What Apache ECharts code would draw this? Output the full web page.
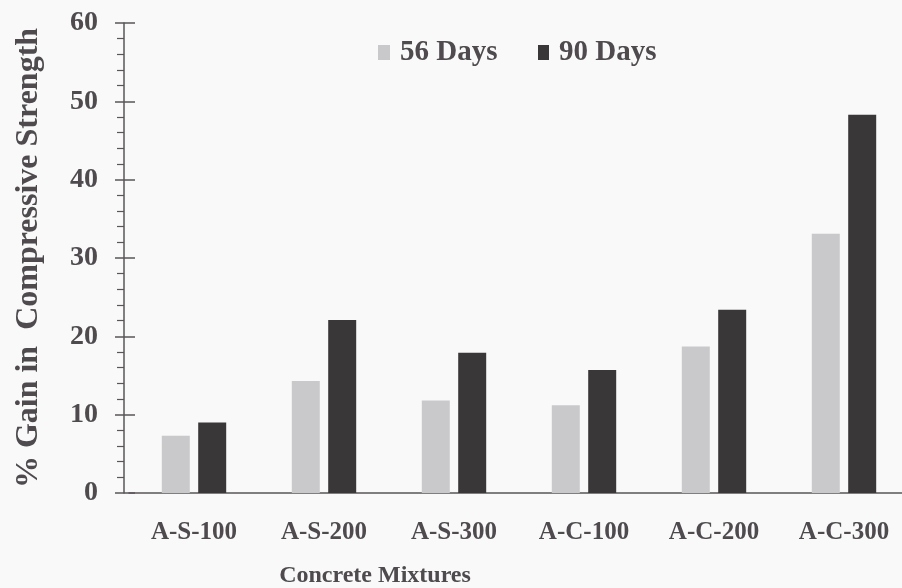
<!DOCTYPE html>
<html>
<head>
<meta charset="utf-8">
<title>% Gain in Compressive Strength</title>
<script src="https://cdn.jsdelivr.net/npm/echarts@6/dist/echarts.min.js"></script>
<style>
  html, body { margin: 0; padding: 0; background: #f9f9f9; }
  #chart { width: 902px; height: 588px; }
</style>
</head>
<body>
<div id="chart"></div>
<script>
// Concrete mixtures on the category axis
const mixtures = ['A-S-100', 'A-S-200', 'A-S-300', 'A-C-100', 'A-C-200', 'A-C-300'];
// % gain in compressive strength at each age
const gain56Days = [7.3, 14.3, 11.8, 11.2, 18.7, 33.1];
const gain90Days = [9.0, 22.1, 17.9, 15.7, 23.4, 48.3];
// Value axis ticks
const yTicks = [0, 10, 20, 30, 40, 50, 60];

const FONT = '"Liberation Serif", "Times New Roman", serif';
const TEXT = '#4e4a4e';
const LINE = '#5a5658';
const LIGHT = '#c9c8cb';
const DARK = '#3a3738';

const chart = echarts.init(document.getElementById('chart'), null, { renderer: 'canvas' });

const legendText = { fontFamily: FONT, fontWeight: 'bold', fontSize: 29, color: TEXT, padding: [0, 0, 0, 5] };

chart.setOption({
  backgroundColor: '#f9f9f9',
  animation: false,
  legend: [
    {
      data: ['56 Days'], left: 373, top: 33, icon: 'rect',
      itemWidth: 12, itemHeight: 15, textStyle: legendText
    },
    {
      data: ['90 Days'], left: 533, top: 33, icon: 'rect',
      itemWidth: 11, itemHeight: 15, textStyle: legendText
    }
  ],
  grid: {
    left: 129, right: -7, top: 23, bottom: 95,
    containLabel: false, outerBoundsMode: 'none'
  },
  xAxis: {
    type: 'category',
    data: mixtures,
    axisLine: { lineStyle: { color: LINE, width: 1.5 } },
    axisTick: { show: false },
    axisLabel: {
      margin: 27, fontFamily: FONT, fontWeight: 'bold', fontSize: 25, color: TEXT
    }
  },
  yAxis: [
    {
      type: 'value',
      position: 'left',
      min: yTicks[0], max: yTicks[yTicks.length - 1], interval: 10,
      offset: 5,
      name: '% Gain in  Compressive Strength',
      nameLocation: 'middle',
      nameRotate: 90,
      nameGap: 79,
      nameTextStyle: { fontFamily: FONT, fontWeight: 'bold', fontSize: 32, color: TEXT },
      axisLine: { show: true, lineStyle: { color: LINE, width: 1.5 } },
      axisTick: { show: true, length: 9, lineStyle: { color: LINE, width: 1.5 } },
      minorTick: { show: true, splitNumber: 5, length: 7, lineStyle: { color: LINE, width: 1.2 } },
      splitLine: { show: false },
      axisLabel: {
        margin: 26, fontFamily: FONT, fontWeight: 'bold', fontSize: 28, color: TEXT
      }
    },
    {
      // inner half of the major ticks, so they cross the axis line
      type: 'value',
      position: 'left',
      min: yTicks[0], max: yTicks[yTicks.length - 1], interval: 10,
      offset: 5,
      axisLine: { show: false },
      axisTick: { show: true, inside: true, length: 11, lineStyle: { color: LINE, width: 1.5 } },
      splitLine: { show: false },
      axisLabel: { show: false }
    }
  ],
  series: [
    {
      name: '56 Days', type: 'bar', data: gain56Days,
      barWidth: 28, barGap: '30%',
      itemStyle: { color: LIGHT }
    },
    {
      name: '90 Days', type: 'bar', data: gain90Days,
      barWidth: 28, barGap: '30%',
      itemStyle: { color: DARK }
    }
  ],
  graphic: [
    {
      type: 'text', x: 375, y: 576,
      style: {
        text: 'Concrete Mixtures', textAlign: 'center', textVerticalAlign: 'middle',
        font: 'bold 24px ' + FONT, fill: TEXT
      }
    }
  ]
});
</script>
</body>
</html>
